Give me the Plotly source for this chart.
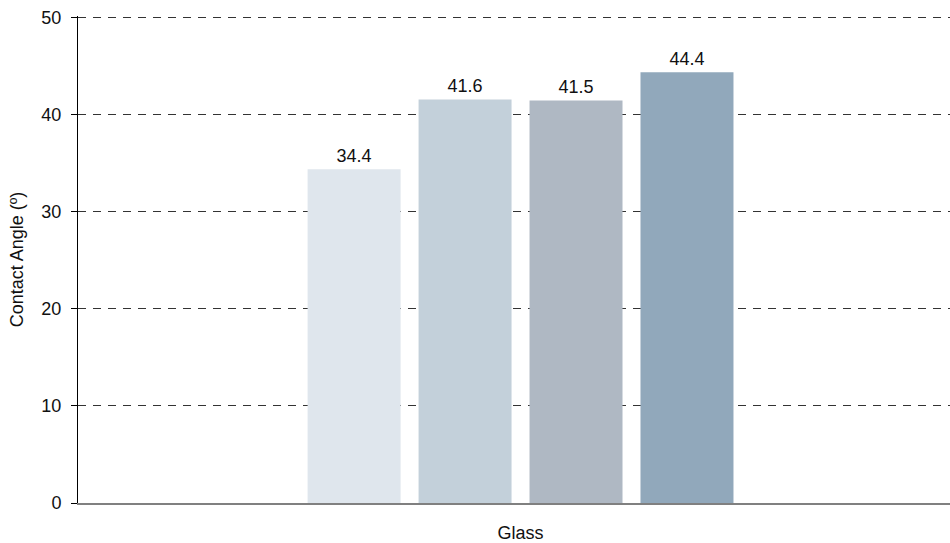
import plotly.graph_objects as go

# Contact angle measurements on glass
category = ["Glass"]
series_names = ["Sample 1", "Sample 2", "Sample 3", "Sample 4"]
values = [34.4, 41.6, 41.5, 44.4]
colors = ["#dfe6ed", "#c3d0da", "#afb8c3", "#91a8bb"]

fig = go.Figure()
for name, v, c in zip(series_names, values, colors):
    fig.add_trace(go.Bar(
        x=category, y=[v], name=name,
        marker=dict(color=c, line=dict(width=0)),
        text=[f"{v:.1f}"], textposition="outside",
        textfont=dict(size=18, color="#111111"),
        cliponaxis=False,
    ))

fig.update_layout(
    width=950, height=543,
    barmode="group", bargap=0.491, bargroupgap=0.162,
    plot_bgcolor="white", paper_bgcolor="white",
    font=dict(family="Liberation Sans, Arial, sans-serif", size=18, color="#111111"),
    showlegend=False,
    margin=dict(l=78, r=0, t=16, b=37),
)
fig.update_xaxes(
    range=[-0.5075, 0.4925],
    showline=True, linecolor="#808080", linewidth=2,
    ticks="", ticklabelstandoff=12,
    showgrid=False,
)
fig.update_yaxes(
    range=[0, 50.2], tickvals=[0, 10, 20, 30, 40, 50],
    title=dict(text="Contact Angle (º)", font=dict(size=18), standoff=13),
    showline=True, linecolor="black", linewidth=1,
    ticks="outside", ticklen=6, tickcolor="black", ticklabelstandoff=6,
    showgrid=True, gridcolor="#333333", gridwidth=1, griddash="8px,7px",
    zeroline=False,
)

# drop the default page margin so the figure fills the window
fig.write_html("out.html", config={"displayModeBar": False},
               post_script="document.body.style.margin='0';")
